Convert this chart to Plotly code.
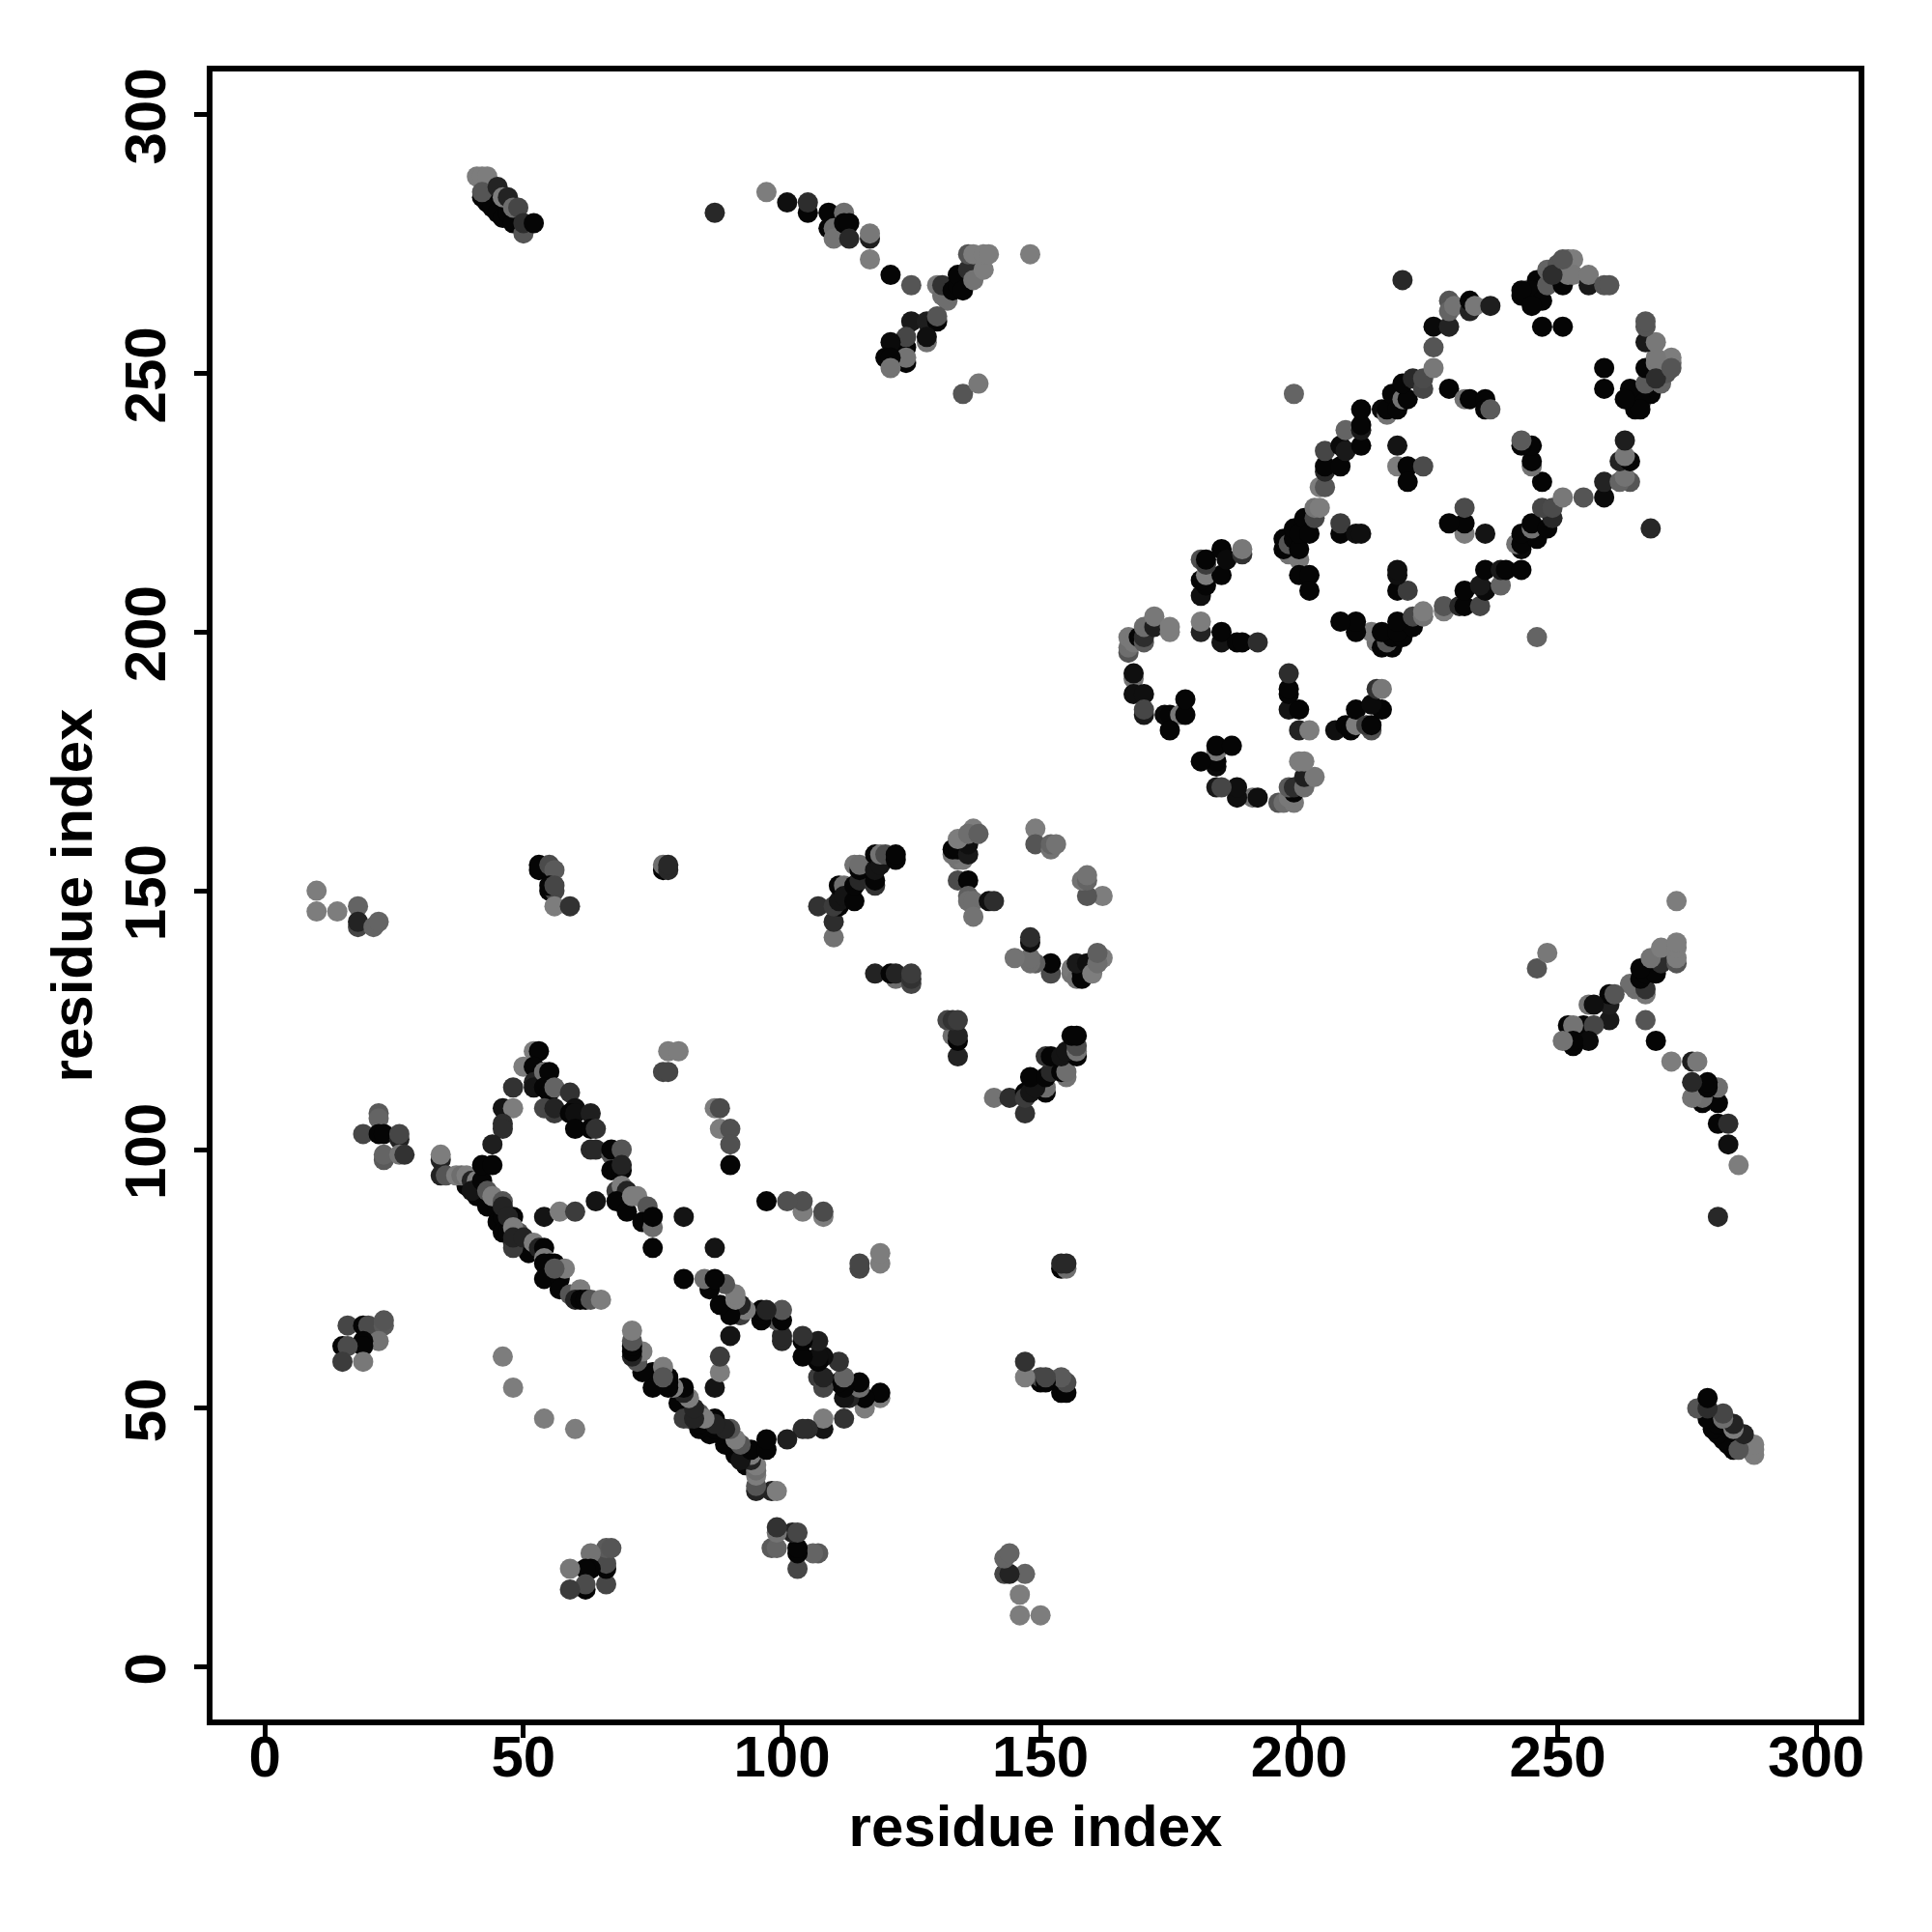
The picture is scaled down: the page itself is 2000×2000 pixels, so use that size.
import plotly.graph_objects as go

# Contacts are stored once (i < j); the map is symmetric. Values in grey give the dot shade.
band1_i = [39,41,43,45,45,46,46,47,48,51,34,34,34,35,37,38,39,40,41,40,42,43,44,46,46,47,49,48,48,48,48,50,52,53,54,54,55,56,54,54,57,57,58,56,59,61,60,61,62,63,65]
band1_j = [93,91,89,88,86,87,84,84,87,80,98,99,95,95,95,95,95,94,94,92,94,92,91,90,89,87,84,85,82,81,83,83,82,81,81,79,78,78,78,75,75,73,77,77,72,73,71,71,71,71,71]
band1_g = [5,5,5,5,5,5,5,5,5,5,35,125,35,85,125,110,125,35,125,20,5,85,125,85,35,35,85,125,35,60,35,35,125,35,5,125,5,5,5,5,5,5,125,85,85,125,35,5,5,85,125]

band2_i = [52,53,50,52,52,52,54,55,54,55,56,59,56,54,56,60,59,60,63,60,63,64,63,64,67,67,69,67,68,69,69,68,69,70,68,70,71,72,74,73,75,75,75,81]
band2_j = [119,119,116,116,113,112,115,115,112,111,112,111,107,108,108,108,107,107,107,104,104,104,100,100,99,100,100,96,96,96,97,92,93,92,90,88,91,91,89,86,85,87,81,87]
band2_g = [125,5,125,5,35,20,110,5,5,5,100,50,60,70,35,15,5,15,30,5,5,50,40,40,85,5,85,5,5,5,35,60,125,35,5,5,125,125,85,5,110,5,5,20]

inner_i = [48,46,48,46,46,44,42,44,54,57,60,64,46,48,77,78,78,80,87,88,88,90,90,90]
inner_j = [112,108,108,105,104,101,97,97,87,88,88,90,60,54,115,115,119,119,108,108,104,104,101,97]
inner_g = [50,20,125,45,45,30,5,5,20,125,60,20,125,125,70,70,125,125,125,75,125,80,80,5]

far_i = [10,10,14,18,18,18,21,22,53,53,55,56,55,56,55,56,56,59,77,77,78,78,22,22,19,22,23,26,26,23,23,26,27,16,19,20,23,23,22,19,19,15,16,15,19]
far_j = [150,146,146,147,143,144,143,144,154,155,155,154,150,150,151,151,147,147,154,155,154,155,107,106,103,103,103,102,103,98,99,99,99,66,66,66,66,67,63,63,62,62,62,59,59]
far_g = [125,125,125,100,70,35,100,100,5,5,75,90,5,70,5,70,125,50,5,110,40,40,90,100,70,5,5,35,70,90,100,115,50,70,5,75,90,85,115,5,5,5,75,60,120]

mid_i = [110,110,107,111,110,111,111,112,112,114,114,115,118,118,114,115,115,118,118,119,119,120,122,122,118,122,121,122,125,125,125]
mid_j = [141,144,147,147,147,148,151,151,149,148,151,152,151,152,155,154,155,154,157,155,157,157,156,157,134,133,134,134,132,133,134]
mid_g = [115,45,50,5,60,20,5,110,20,5,5,40,50,5,115,5,110,20,5,20,115,75,5,5,35,110,5,35,70,50,60]

ring_i = [134,135,133,133,134,136,136,134,137,136,138,134,136,136,136,137,140,141,137,149,149,152,152,153]
ring_j = [156,156,157,158,158,157,159,160,162,161,161,152,152,149,148,148,148,148,145,162,159,158,159,159]
ring_g = [115,120,115,5,5,25,15,125,125,110,95,75,5,95,110,110,15,45,115,125,85,115,100,115]

top_a_i = [42,43,44,45,46,47,48,41,42,43,42,45,46,47,48,49,50,50,52]
top_a_j = [284,283,282,281,280,281,279,288,288,288,285,286,284,284,282,282,277,279,279]
top_a_g = [5,5,5,5,5,5,5,125,125,125,85,35,125,35,110,70,85,45,5]

top_b_i = [87,97,101,105,105,109,109,110,110,112,112,113,113,117,117,117,121,125]
top_b_j = [281,285,283,281,283,278,281,278,276,281,279,279,276,276,277,272,269,267]
top_b_g = [40,125,15,5,45,5,5,110,115,110,5,5,40,30,120,125,5,85]

top_c_i = [130,131,132,131,133,134,134,135,136,136,137,137,139,139,140,148,125,128,130,130,128,128,124,124,121,124,124,120,121,121,135,138]
top_c_j = [267,265,264,267,266,267,269,266,270,273,268,273,270,273,273,273,260,260,260,261,256,257,255,257,256,252,253,253,253,251,246,248]
top_c_g = [120,110,110,50,5,5,5,5,45,85,115,125,125,125,125,125,25,30,5,85,115,15,5,70,10,5,115,5,5,115,85,120]

loop1_i = [167,167,167,168,169,170,170,170,172,172,175,175,168,168,168,170,170,170,174,175,177,178,178,175,181,181,181,182,181,182,185,181,182,182,185,186,189,189,185,185,188,189,192]
loop1_j = [196,197,199,198,199,198,199,201,201,203,200,201,191,192,188,188,184,185,184,184,184,184,187,181,200,202,207,209,210,211,211,214,213,214,216,214,215,216,198,200,198,198,198]
loop1_g = [85,110,120,120,5,90,45,110,30,120,125,125,115,15,15,15,25,70,10,5,120,5,5,5,35,125,15,5,5,125,5,80,60,5,5,10,50,120,20,5,5,5,45]

loop2_i = [198,200,197,197,198,199,199,200,200,201,202,203,203,204,204,205,200,202,202,208,208,211,212,205,205,208,205,208,209,209,212,212,212,212,216,217,217,218,219,220,221,220,222,224,224,226,229,232,233,236,236,237,219,219,221,221,224,199,220]
loop2_j = [215,214,216,218,217,218,220,216,219,222,219,222,224,224,228,228,211,211,208,219,221,219,219,231,232,232,235,236,235,239,236,239,240,243,243,242,243,246,243,245,245,248,249,247,249,251,247,245,245,245,243,243,236,232,232,229,232,246,268]
loop2_g = [115,120,5,5,85,5,5,5,5,5,5,70,115,125,125,85,5,5,5,5,60,15,15,40,5,5,70,10,25,100,5,25,5,5,10,115,5,5,5,115,5,5,40,70,75,120,5,115,5,5,5,90,20,125,5,5,75,100,40]

lobe_i = [226,229,226,229,229,230,233,233,234,237,243,244,246,246,245,247,243,245,248,248,250,252,253,251,252,253,256,256,259,260,247,251,249,251]
lobe_j = [259,259,255,264,262,263,262,264,263,263,265,266,264,268,266,264,266,263,267,270,271,272,272,267,269,269,267,269,267,267,259,259,269,272]
lobe_g = [10,35,85,85,100,115,35,5,120,30,5,40,85,5,5,5,5,5,90,100,85,100,125,5,120,120,25,120,85,85,5,5,45,85]

tick_values = [0, 50, 100, 150, 200, 250, 300]
axis_title = "residue index"

regions = [
    (band1_i, band1_j, band1_g), (band2_i, band2_j, band2_g), (inner_i, inner_j, inner_g),
    (far_i, far_j, far_g), (mid_i, mid_j, mid_g), (ring_i, ring_j, ring_g),
    (top_a_i, top_a_j, top_a_g), (top_b_i, top_b_j, top_b_g), (top_c_i, top_c_j, top_c_g),
    (loop1_i, loop1_j, loop1_g), (loop2_i, loop2_j, loop2_g), (lobe_i, lobe_j, lobe_g),
]

xs, ys, cols = [], [], []
for a, b, g in regions:
    for p, q, v in zip(a, b, g):
        xs += [p, q]
        ys += [q, p]
        cols += [f"rgb({v},{v},{v})"] * 2

fig = go.Figure(go.Scatter(x=xs, y=ys, mode="markers", hoverinfo="skip",
                           marker=dict(size=21, color=cols, line=dict(width=0))))

font = dict(family="Liberation Sans", size=60, color="black", weight="bold")
axis = dict(tickvals=tick_values, ticks="outside", ticklen=13, tickwidth=5,
            tickcolor="black", showgrid=False, zeroline=False, showline=True, linecolor="black",
            linewidth=6, mirror=True, tickfont=font)
fig.update_xaxes(**axis, range=[-10.13, 308.2], ticklabelstandoff=-32,
                 title=dict(text=f"<b>{axis_title}</b>", font=font, standoff=20))
fig.update_yaxes(**axis, range=[-10.12, 308.3], ticklabelstandoff=6, ticklabelshift=11, tickangle=-90,
                 title=dict(text=f"<b>{axis_title}</b>", font=font, standoff=4))
fig.update_layout(width=2000, height=2000, autosize=False, paper_bgcolor="white", plot_bgcolor="white",
                  margin=dict(l=220, r=76, t=74, b=220, autoexpand=False), showlegend=False)
fig.write_html("out.html", config=dict(displayModeBar=False),
               post_script="document.body.style.margin='0';")
